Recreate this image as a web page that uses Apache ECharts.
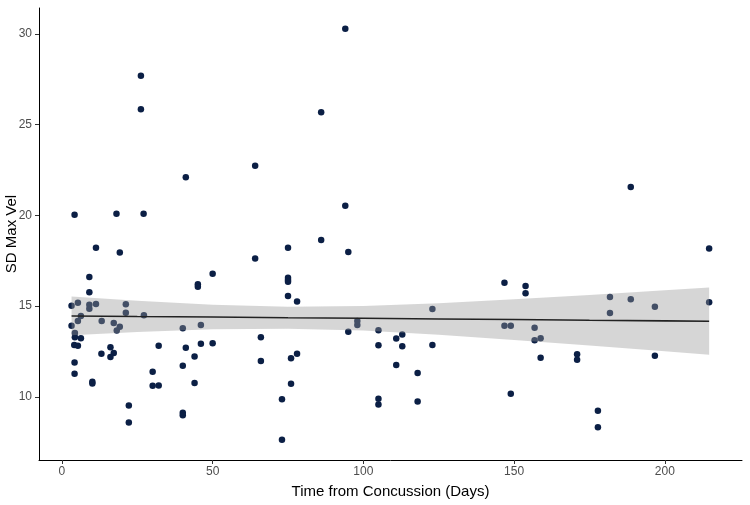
<!DOCTYPE html>
<html>
<head>
<meta charset="utf-8">
<script src="https://cdn.jsdelivr.net/npm/echarts@6/dist/echarts.min.js"></script>
<style>
  html, body { margin: 0; padding: 0; background: #fff; }
  #chart { width: 750px; height: 505px; }
</style>
</head>
<body>
<div id="chart"></div>
<script>
// observations: days since concussion and SD of max velocity
const timeDays = [
  4.2, 18.1, 27.1, 26.2, 26.2, 41.1, 64.1, 94.0, 86.0, 94.0, 86.0, 188.7,
  11.3, 19.2, 64.1, 9.1, 50.0, 9.1, 45.1, 45.1, 3.2, 5.3, 9.1, 9.1, 11.3,
  21.2, 21.2, 6.3, 27.2, 5.3, 13.2, 17.2, 3.2, 19.2, 18.2, 4.3, 4.3, 6.3,
  40.1, 46.1, 66.0, 4.1, 5.3, 32.1, 16.1, 41.1, 46.1, 50.0, 13.1, 17.2,
  16.1, 44.0, 66.0, 4.2, 40.1, 30.1, 4.2, 10.1, 10.1, 44.0, 30.1, 32.1,
  22.2, 40.1, 40.1, 22.2,
  75.0, 95.0, 75.0, 75.0, 75.0, 75.0, 78.0, 146.8, 122.9, 98.0, 98.0, 95.0,
  105.0, 146.8, 148.9, 110.9, 112.9, 105.0, 112.9, 122.9, 76.0, 78.0, 110.9,
  118.0, 76.0, 148.9, 73.0, 105.0, 105.0, 118.0, 73.0,
  214.7, 153.8, 153.8, 181.8, 188.7, 214.7, 196.7, 181.8, 156.8, 156.8,
  158.8, 158.8, 170.9, 170.9, 196.7, 177.8, 177.8
];
const sdMaxVel = [
  20.03, 20.09, 20.09, 27.7, 25.85, 22.1, 22.73, 30.29, 25.68, 20.53, 18.64, 21.57,
  18.22, 17.96, 17.63, 16.6, 16.79, 15.76, 16.2, 16.07, 15.02, 15.19, 15.08, 14.86, 15.12,
  15.1, 14.64, 14.46, 14.5, 14.18, 14.18, 14.07, 13.92, 13.87, 13.65, 13.52, 13.29, 13.23,
  13.78, 13.96, 13.29, 12.86, 12.81, 12.82, 12.73, 12.7, 12.92, 12.96, 12.37, 12.42,
  12.2, 12.22, 11.98, 11.89, 11.72, 11.38, 11.27, 10.83, 10.73, 10.77, 10.61, 10.62,
  9.52, 9.12, 8.99, 8.59,
  18.22, 17.98, 16.57, 16.44, 16.35, 15.56, 15.25, 16.29, 14.84, 14.18, 13.96, 13.59,
  13.67, 13.92, 13.92, 13.21, 13.43, 12.85, 12.79, 12.86, 12.13, 12.38, 11.76,
  11.32, 10.72, 10.17, 9.87, 9.89, 9.58, 9.74, 7.63,
  18.18, 16.11, 15.71, 15.5, 15.38, 15.21, 14.97, 14.62, 13.81, 13.12,
  13.23, 12.15, 12.35, 12.04, 12.27, 9.23, 8.33
];

// fitted line and confidence band, read at several x positions
const bandDays  = [3.2, 25, 50, 75, 100, 125, 150, 175, 200, 214.7];
const fitValues = [14.46, 14.43, 14.40, 14.36, 14.33, 14.29, 14.26, 14.22, 14.19, 14.17];
const bandLower = [13.39, 13.57, 13.73, 13.76, 13.65, 13.42, 13.14, 12.83, 12.51, 12.32];
const bandUpper = [15.53, 15.29, 15.07, 14.96, 15.01, 15.16, 15.38, 15.61, 15.87, 16.02];

const xTicks = [0, 50, 100, 150, 200];
const yTicks = [10, 15, 20, 25, 30];

const chart = echarts.init(document.getElementById("chart"));

const points = timeDays.map((d, i) => [d, sdMaxVel[i]]);
const fitLine = bandDays.map((d, i) => [d, fitValues[i]]);
const band = bandDays.map((d, i) => [d, bandLower[i], bandUpper[i]]);

const axisText = { color: "#4d4d4d", fontSize: 12, fontFamily: "Liberation Sans" };
const nameText = { color: "#000", fontSize: 15, fontFamily: "Liberation Sans" };

chart.setOption({
  animation: false,
  backgroundColor: "#fff",
  grid: { left: 39, right: 8, top: 8, bottom: 45, outerBoundsMode: "none", containLabel: false },
  xAxis: {
    type: "value",
    min: -7.6,
    max: 225.6,
    name: "Time from Concussion (Days)",
    nameLocation: "middle",
    nameGap: 24,
    nameMoveOverlap: false,
    nameTextStyle: nameText,
    axisLine: { onZero: false, lineStyle: { color: "#000", width: 1 } },
    axisTick: { show: true, length: 4, customValues: xTicks, lineStyle: { color: "#333" } },
    axisLabel: { ...axisText, margin: 6, customValues: xTicks },
    splitLine: { show: false }
  },
  yAxis: {
    type: "value",
    min: 6.52,
    max: 31.43,
    name: "SD Max Vel",
    nameLocation: "middle",
    nameGap: 20,
    nameMoveOverlap: false,
    nameTextStyle: nameText,
    axisLine: { show: true, onZero: false, lineStyle: { color: "#000", width: 1 } },
    axisTick: { show: true, length: 4, customValues: yTicks, lineStyle: { color: "#333" } },
    axisLabel: { ...axisText, margin: 7, customValues: yTicks },
    splitLine: { show: false }
  },
  series: [
    {
      type: "scatter",
      data: points,
      symbolSize: 6.5,
      itemStyle: { color: "#0b1f45", opacity: 1 },
      z: 2
    },
    {
      // confidence band drawn on top of the points, like geom_smooth
      type: "custom",
      data: band,
      z: 3,
      silent: true,
      renderItem: (params, api) => {
        if (params.dataIndex !== 0) return;
        const upper = band.map(r => api.coord([r[0], r[2]]));
        const lower = band.slice().reverse().map(r => api.coord([r[0], r[1]]));
        return {
          type: "polygon",
          shape: { points: upper.concat(lower) },
          style: { fill: "rgba(153,153,153,0.4)" }
        };
      }
    },
    {
      type: "line",
      data: fitLine,
      symbol: "none",
      lineStyle: { color: "#222", width: 1.6 },
      z: 4
    }
  ]
});
</script>
</body>
</html>
